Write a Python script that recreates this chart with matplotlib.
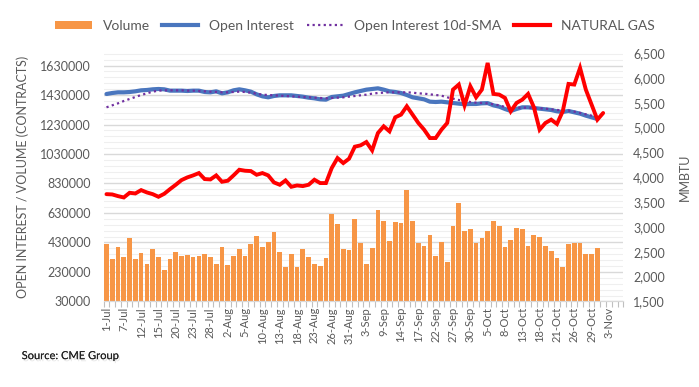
import matplotlib
matplotlib.use("Agg")
import matplotlib.pyplot as plt
import matplotlib.patheffects as pe
import numpy as np
from matplotlib.lines import Line2D
from matplotlib.patches import Patch
from matplotlib.ticker import FixedLocator, FuncFormatter

# business days 1-Jul .. 5-Nov (90 categories), a label every 3rd day
n_days = 90
tick_labels = ["1-Jul", "7-Jul", "12-Jul", "15-Jul", "20-Jul", "23-Jul", "28-Jul",
               "2-Aug", "5-Aug", "10-Aug", "13-Aug", "18-Aug", "23-Aug", "26-Aug",
               "31-Aug", "3-Sep", "9-Sep", "14-Sep", "17-Sep", "22-Sep", "27-Sep",
               "30-Sep", "5-Oct", "8-Oct", "13-Oct", "18-Oct", "21-Oct", "26-Oct",
               "29-Oct", "3-Nov"]

volume = [417600, 315900, 397000, 329500, 458000, 316000, 356600, 286500, 383700, 329500,
          241300, 316000, 367900, 336200, 347500, 329500, 340800, 349800, 329500, 286500,
          397000, 275200, 336200, 383700, 336200, 422100, 471800, 397000, 431200, 499000,
          363300, 261700, 349800, 261700, 383700, 329500, 286500, 268400, 322700, 625500,
          553200, 383700, 376900, 587100, 424400, 282000, 390500, 648100, 573500, 437900,
          566800, 560000, 783700, 573500, 424400, 404000, 478600, 336200, 431200, 295600,
          539600, 695600, 505700, 519300, 424400, 458300, 505700, 573500, 539600, 397000,
          444700, 526100, 519300, 404000, 478600, 465000, 404000, 370100, 322700, 261700,
          417600, 424400, 424400, 349800, 349800, 390500]

open_interest = [1436850, 1443600, 1448100, 1448100, 1450400, 1454900, 1461700, 1464000, 1468500, 1470800,
                 1468500, 1459500, 1459500, 1459500, 1457200, 1459500, 1459500, 1450400, 1448100, 1454900,
                 1441300, 1448150, 1461700, 1468500, 1461700, 1452700, 1434600, 1421000, 1414300, 1423300,
                 1427800, 1427800, 1427800, 1423300, 1418800, 1412000, 1407500, 1400700, 1398500, 1416500,
                 1421000, 1425500, 1436800, 1448100, 1457200, 1466300, 1470800, 1475300, 1466300, 1455000,
                 1450400, 1443600, 1430100, 1414300, 1407500, 1400700, 1384900, 1382600, 1384900, 1380400,
                 1375900, 1371400, 1366900, 1369100, 1369100, 1373600, 1375000, 1360000, 1351000, 1335200,
                 1321600, 1335200, 1346400, 1346400, 1341900, 1337400, 1332900, 1328400, 1319300, 1314800,
                 1321600, 1312600, 1303600, 1290000, 1278700, 1267400]

oi_sma = [1346450, 1360000, 1373600, 1389400, 1403000, 1416500, 1430100, 1441300, 1452700, 1459500,
          1461700, 1461700, 1461700, 1461700, 1459500, 1459500, 1457200, 1454900, 1452700, 1450400,
          1448200, 1448200, 1450400, 1452700, 1450400, 1445900, 1439100, 1432300, 1430100, 1427800,
          1425500, 1423300, 1421000, 1418800, 1416500, 1414300, 1412000, 1409700, 1407500, 1409700,
          1412000, 1414300, 1418800, 1423300, 1428000, 1432300, 1439100, 1443600, 1445900, 1448200,
          1448200, 1448200, 1448200, 1445900, 1441300, 1439100, 1434600, 1430100, 1425500, 1414300,
          1405300, 1396200, 1387200, 1382600, 1378100, 1375900, 1373600, 1366900, 1360100, 1348800,
          1342000, 1342000, 1344300, 1344300, 1342000, 1339700, 1337400, 1332900, 1328400, 1326200,
          1324000, 1317200, 1308200, 1299100, 1290100, 1278800]

natural_gas = [3660, 3654, 3620, 3593, 3687, 3674, 3741, 3694, 3660, 3607,
               3667, 3761, 3849, 3943, 3997, 4037, 4084, 3963, 3956, 4037,
               3909, 3930, 4037, 4151, 4131, 4124, 4050, 4084, 4037, 3896,
               3849, 3936, 3808, 3835, 3822, 3849, 3950, 3883, 3883, 4185,
               4386, 4285, 4373, 4615, 4642, 4709, 4541, 4890, 5025, 4924,
               5206, 5260, 5428, 5260, 5092, 4957, 4789, 4789, 4957, 5092,
               5764, 5865, 5448, 5831, 5609, 5764, 6301, 5677, 5663, 5596,
               5327, 5495, 5562, 5677, 5410, 4957, 5092, 5159, 5072, 5327,
               5878, 5865, 6201, 5764, 5461, 5159, 5293]

ORANGE = "#F79646"
BLUE = "#4A76BE"
PURPLE = "#7030A0"
RED = "#FF0000"
GREY = "#595959"

plt.rcParams["font.family"] = ["Lato", "DejaVu Sans"]

fig = plt.figure(figsize=(6.99, 3.87), dpi=100)
ax = fig.add_axes([0.1482, 0.221, 0.7436, 0.642])
ax2 = ax.twinx()

ax.bar(np.arange(len(volume)), volume, width=0.82, color=ORANGE, zorder=2)
ax.plot(np.arange(len(open_interest)), open_interest, color=BLUE, lw=3, zorder=3,
        solid_capstyle="round")
ax.plot(np.arange(len(oi_sma)), oi_sma, color=PURPLE, lw=1.6, ls=(0, (1, 1.5)), zorder=4)
ax2.plot(np.arange(len(natural_gas)), natural_gas, color=RED, lw=2.8,
         solid_capstyle="round", solid_joinstyle="miter")

ax.set_xlim(-0.5, n_days - 0.5)
ax.set_ylim(30000, 1714700)
ax2.set_ylim(1500, 6500)

ax.set_yticks(np.arange(30000, 1630001, 200000))
ax.yaxis.set_major_formatter(FuncFormatter(lambda v, p: f"{int(round(v))}"))
ax.yaxis.set_minor_locator(FixedLocator(np.arange(30000, 1714700, 40000)))
ax.grid(axis="y", which="major", color="#d9d9d9", lw=1.0, zorder=0)
ax.grid(axis="y", which="minor", color="#efefef", lw=0.8, zorder=0)
ax.set_axisbelow(True)

ax2.set_yticks(np.arange(1500, 6501, 500))
ax2.yaxis.set_major_formatter(FuncFormatter(lambda v, p: f"{int(v):,}"))

ax.set_xticks(np.arange(0, 3 * len(tick_labels), 3))
ax.set_xticklabels(tick_labels, rotation=90, fontsize=8, color=GREY)
ax.xaxis.set_minor_locator(FixedLocator(np.arange(-0.5, n_days, 1)))
ax.tick_params(axis="x", which="major", length=0, pad=4)
ax.tick_params(axis="x", which="minor", length=4, color="#bfbfbf", width=0.8)
ax.tick_params(axis="y", which="both", length=0, labelsize=9, labelcolor=GREY, pad=9)
ax2.tick_params(axis="y", length=0, labelsize=9, labelcolor=GREY, pad=7)

for a in (ax, ax2):
    for side in ("top", "left", "right"):
        a.spines[side].set_visible(False)
    a.spines["bottom"].set_color("#d9d9d9")

ax.set_ylabel("OPEN INTEREST / VOLUME (CONTRACTS)", fontsize=9, color=GREY, labelpad=8)
ax2.set_ylabel("MMBTU", fontsize=9, color=GREY, labelpad=10)

handles = [Patch(facecolor=ORANGE, edgecolor="none"),
           Line2D([], [], color=BLUE, lw=3),
           Line2D([], [], color=PURPLE, lw=1.6, ls=(0, (1, 1.5))),
           Line2D([], [], color=RED, lw=3)]
names = ["Volume", "Open Interest", "Open Interest 10d-SMA", "NATURAL GAS"]
fig.legend(handles, names, loc="center", bbox_to_anchor=(0.508, 0.933), ncol=4,
           frameon=False, fontsize=10, labelcolor=GREY, handlelength=2.6,
           handleheight=0.6, columnspacing=0.9, handletextpad=0.8)

fig.text(0.031, 0.072, "Source: CME Group", fontsize=8, color="#222222",
         path_effects=[pe.withSimplePatchShadow(offset=(1, -1.5), alpha=0.2,
                                                shadow_rgbFace="#888888"),
                       pe.Normal()])

fig.savefig("out.png", dpi=100)
